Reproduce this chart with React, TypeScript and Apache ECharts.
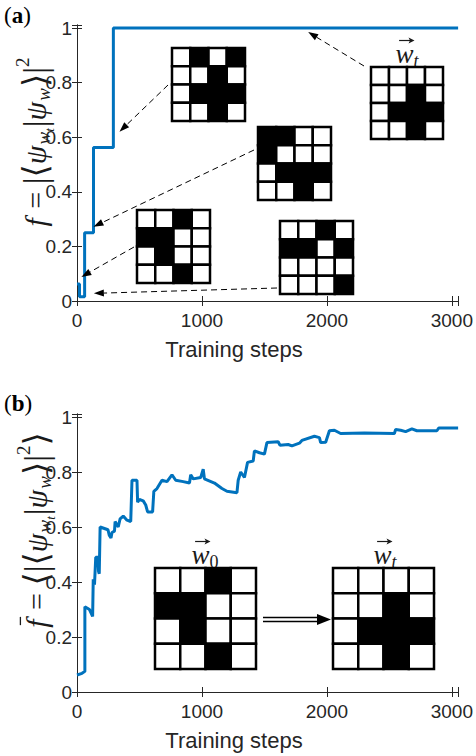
import React, { useEffect, useRef } from 'react';
import * as echarts from 'echarts';

// Panel (a): fidelity of the single training run
const stepsA = [0, 20, 20, 61, 61, 132, 132, 291, 291, 3050];
const fidA = [0.0625, 0.0625, 0.0156, 0.0156, 0.25, 0.25, 0.5625, 0.5625, 1, 1];

// Panel (b): averaged fidelity
const stepsB = [0, 40, 63, 63, 100, 125, 130, 130, 140, 150, 168, 172, 178, 185, 248, 258, 272, 280, 300, 305, 330, 345, 370, 400, 430, 440, 480, 485, 500, 530, 550, 565, 605, 615, 640, 680, 720, 760, 790, 850, 900, 910, 930, 990, 1010, 1020, 1100, 1160, 1200, 1280, 1290, 1310, 1340, 1365, 1410, 1420, 1460, 1500, 1520, 1610, 1625, 1690, 1720, 1780, 1800, 1900, 1940, 1950, 1990, 2020, 2060, 2110, 2300, 2540, 2550, 2590, 2630, 2680, 2720, 2880, 2895, 3050];
const fidB = [0.062, 0.068, 0.075, 0.31, 0.3, 0.275, 0.275, 0.41, 0.39, 0.49, 0.49, 0.44, 0.43, 0.6, 0.59, 0.57, 0.56, 0.58, 0.585, 0.62, 0.6, 0.63, 0.64, 0.625, 0.62, 0.77, 0.77, 0.69, 0.7, 0.695, 0.68, 0.655, 0.655, 0.73, 0.74, 0.77, 0.765, 0.79, 0.77, 0.765, 0.76, 0.79, 0.775, 0.78, 0.81, 0.775, 0.76, 0.74, 0.73, 0.725, 0.77, 0.8, 0.78, 0.835, 0.84, 0.877, 0.87, 0.865, 0.907, 0.91, 0.897, 0.9, 0.895, 0.905, 0.915, 0.93, 0.925, 0.907, 0.908, 0.95, 0.952, 0.94, 0.942, 0.94, 0.955, 0.952, 0.947, 0.957, 0.95, 0.95, 0.96, 0.96];

// 4x4 weight patterns (1 = black)
const patA1 = ['0101', '0010', '0111', '0010'];
const patA2 = ['1100', '1000', '0111', '0010'];
const patA3 = ['0010', '1100', '0100', '0010'];
const patA4 = ['0010', '1101', '0000', '0001'];
const patTarget = ['0000', '0010', '0111', '0010'];
const patW0 = ['0010', '1100', '0100', '0010'];

const xName = 'Training steps';
const xMax = 3050;
const yMax = 1.011;
const axisColor = '#262626';
const tickFont = 'Liberation Sans, Arial, Helvetica, sans-serif';
const mathFont = '"Liberation Serif", "DejaVu Serif", serif';
const mathColor = '#1a1a1a';

function isMult(v: number, step: number) {
  return Math.abs(v / step - Math.round(v / step)) < 1e-6;
}

function makeAxes(gi: number) {
  const xs = [
    {
      gridIndex: gi, type: 'value', position: 'bottom', min: 0, max: xMax, interval: 1000,
      axisLine: { show: true, lineStyle: { color: axisColor, width: 1 } },
      axisTick: { show: true, inside: true, length: 5, lineStyle: { color: axisColor } },
      axisLabel: { show: true, margin: 10, fontSize: 19, color: axisColor, fontFamily: tickFont,
        formatter: (v: number) => (isMult(v, 1000) ? String(v) : '') },
      splitLine: { show: false },
    },
    {
      gridIndex: gi, type: 'value', position: 'top', min: 0, max: xMax, interval: 1000,
      axisLine: { show: true, lineStyle: { color: axisColor, width: 1 } },
      axisTick: { show: true, inside: true, length: 5, lineStyle: { color: axisColor } },
      axisLabel: { show: false }, splitLine: { show: false },
    },
  ];
  const ys = [
    {
      gridIndex: gi, type: 'value', position: 'left', min: 0, max: yMax, interval: 0.2,
      axisLine: { show: true, lineStyle: { color: axisColor, width: 1 } },
      axisTick: { show: true, inside: true, length: 5, lineStyle: { color: axisColor } },
      axisLabel: { show: true, margin: 5, fontSize: 19, color: axisColor, fontFamily: tickFont,
        formatter: (v: number) => (isMult(v, 0.2) ? String(Math.round(v * 10) / 10) : '') },
      splitLine: { show: false },
    },
    {
      gridIndex: gi, type: 'value', position: 'right', min: 0, max: yMax, interval: 0.2,
      axisLine: { show: true, lineStyle: { color: axisColor, width: 1 } },
      axisTick: { show: true, inside: true, length: 5, lineStyle: { color: axisColor } },
      axisLabel: { show: false }, splitLine: { show: false },
    },
  ];
  return { xs, ys };
}

function gridCells(x: number, y: number, size: number, pat: string[], lw: number) {
  const cs = size / 4;
  const out: any[] = [];
  pat.forEach((row, r) => {
    row.split('').forEach((c, k) => {
      out.push({
        type: 'rect',
        shape: { x: x + k * cs, y: y + r * cs, width: cs, height: cs },
        style: { fill: c === '1' ? '#000' : '#fff', stroke: '#000', lineWidth: lw },
        z: 100,
      });
    });
  });
  return out;
}

function dashedArrow(x1: number, y1: number, x2: number, y2: number) {
  const dx = x2 - x1, dy = y2 - y1;
  const L = Math.sqrt(dx * dx + dy * dy);
  const ux = dx / L, uy = dy / L;
  const hl = 10, hw = 3.5;
  const bx = x2 - ux * hl, by = y2 - uy * hl;
  return [
    {
      type: 'line', shape: { x1, y1, x2: bx, y2: by },
      style: { stroke: '#000', lineWidth: 1, lineDash: [6, 4] }, z: 100,
    },
    {
      type: 'polygon',
      shape: { points: [[x2, y2], [bx - uy * hw, by + ux * hw], [bx + uy * hw, by - ux * hw]] },
      style: { fill: '#000' }, z: 100,
    },
  ];
}

type Piece = { t: string; size: number; it?: boolean; dy?: number; bar?: boolean; vec?: boolean; pad?: number };

let measureCtx: CanvasRenderingContext2D | null = null;
function measure(t: string, size: number, it?: boolean) {
  if (!measureCtx) measureCtx = document.createElement('canvas').getContext('2d');
  measureCtx!.font = (it ? 'italic ' : '') + size + 'px ' + mathFont;
  return measureCtx!.measureText(t).width;
}

function mathGroup(cx: number, cy: number, pieces: Piece[], rotation: number) {
  const widths = pieces.map((p) => measure(p.t, p.size, p.it) + (p.pad || 0));
  const total = widths.reduce((s, w) => s + w, 0);
  let x = -total / 2;
  const children: any[] = [];
  pieces.forEach((p, i) => {
    const w = widths[i];
    const dy = p.dy || 0;
    children.push({
      type: 'text', x, y: dy,
      style: {
        text: p.t, fontSize: p.size, fontFamily: mathFont, fontStyle: p.it ? 'italic' : 'normal',
        fill: mathColor, align: 'left', verticalAlign: 'middle',
      },
    });
    if (p.bar) {
      const by = dy - p.size * 0.52;
      children.push({ type: 'line', shape: { x1: x + w * 0.25, y1: by, x2: x + w * 1.05, y2: by }, style: { stroke: mathColor, lineWidth: 1.3 } });
    }
    if (p.vec) {
      const vy = dy - p.size * 0.5;
      const x1 = x + w * 0.2, x2 = x + w * 1.0;
      children.push({ type: 'line', shape: { x1, y1: vy, x2: x2 - 2, y2: vy }, style: { stroke: mathColor, lineWidth: 1.2 } });
      children.push({ type: 'polygon', shape: { points: [[x2 + 1, vy], [x2 - 5, vy - 3], [x2 - 3.5, vy], [x2 - 5, vy + 3]] }, style: { fill: mathColor } });
    }
    x += w;
  });
  return { type: 'group', x: cx, y: cy, rotation, children, z: 100 };
}

const M = 30, D = 34, S = 19, SS = 13;
const labelA: Piece[] = [
  { t: 'f', size: M, it: true, pad: 2 },
  { t: ' = ', size: M },
  { t: '|\u27E8', size: D },
  { t: '\u03C8', size: M, it: true, pad: 1 },
  { t: 'w', size: S, it: true, dy: 8 },
  { t: 't', size: SS, it: true, dy: 14, pad: 1 },
  { t: '|', size: D },
  { t: '\u03C8', size: M, it: true, pad: 1 },
  { t: 'w', size: S, it: true, dy: 8, pad: 1 },
  { t: '\u27E9|', size: D },
  { t: '2', size: S, dy: -13 },
];
const labelB: Piece[] = [
  { t: 'f', size: M, it: true, bar: true, pad: 2 },
  { t: ' = ', size: M },
  { t: '\u27E8|\u27E8', size: D },
  { t: '\u03C8', size: M, it: true, pad: 1 },
  { t: 'w', size: S, it: true, dy: 8 },
  { t: 't', size: SS, it: true, dy: 14, pad: 1 },
  { t: '|', size: D },
  { t: '\u03C8', size: M, it: true, pad: 1 },
  { t: 'w', size: S, it: true, dy: 8, pad: 1 },
  { t: '\u27E9|', size: D },
  { t: '2', size: S, dy: -13 },
  { t: '\u27E9', size: D },
];
const wt: Piece[] = [{ t: 'w', size: 27, it: true, vec: true }, { t: 't', size: 18, it: true, dy: 7 }];
const w0: Piece[] = [{ t: 'w', size: 27, it: true, vec: true }, { t: '0', size: 18, dy: 7 }];

export default function App() {
  const ref = useRef<HTMLDivElement>(null);
  useEffect(() => {
    const chart = echarts.init(ref.current!, null, { renderer: 'svg' });
    const a = makeAxes(0);
    const b = makeAxes(1);
    chart.setOption({
      animation: false,
      backgroundColor: '#fff',
      grid: [
        { left: 77, right: 15, top: 25, height: 276 },
        { left: 77, right: 15, top: 414, height: 278 },
      ],
      xAxis: [...a.xs, ...b.xs.map((x) => ({ ...x, gridIndex: 1 }))],
      yAxis: [...a.ys, ...b.ys.map((y) => ({ ...y, gridIndex: 1 }))],
      series: [
        {
          type: 'line', xAxisIndex: 0, yAxisIndex: 0, showSymbol: false, symbol: 'none',
          data: stepsA.map((s, i) => [s, fidA[i]]),
          lineStyle: { color: '#0072BD', width: 3 }, clip: true,
        },
        {
          type: 'line', xAxisIndex: 2, yAxisIndex: 2, showSymbol: false, symbol: 'none',
          data: stepsB.map((s, i) => [s, fidB[i]]),
          lineStyle: { color: '#0072BD', width: 3 }, clip: true,
        },
      ],
    });

    const px = (pt: number[]) => chart.convertToPixel({ gridIndex: 0 }, pt) as number[];
    const t1 = px([340, 0.62]);
    const t2 = px([132, 0.272]);
    const t3 = px([35, 0.088]);
    const t4 = px([135, 0.028]);
    const t5 = px([1850, 0.985]);

    const panelRich = {
      n: { fontFamily: mathFont, fontSize: 23, fill: '#000' },
      b: { fontFamily: mathFont, fontSize: 23, fontWeight: 'bold', fill: '#000' },
    };
    const nameStyle = {
      text: xName, fontSize: 22, fontFamily: tickFont, fill: axisColor,
      align: 'center', verticalAlign: 'middle',
    };

    const graphic: any[] = [
      { type: 'text', x: 4, y: 4, style: { text: '{n|(}{b|a}{n|)}', rich: panelRich } },
      { type: 'text', x: 4, y: 392, style: { text: '{n|(}{b|b}{n|)}', rich: panelRich } },
      { type: 'text', x: 234, y: 349, style: nameStyle },
      { type: 'text', x: 234, y: 740, style: nameStyle },
      mathGroup(35, 142, labelA, Math.PI / 2),
      mathGroup(36, 530, labelB, Math.PI / 2),
      // panel (a) insets
      ...gridCells(172, 48, 73, patA1, 2.5),
      ...gridCells(258, 127, 73, patA2, 2.5),
      ...gridCells(137, 210, 73, patA3, 2.5),
      ...gridCells(280, 221, 73, patA4, 2.5),
      ...gridCells(371, 67, 72, patTarget, 2.5),
      mathGroup(407, 54, wt, 0),
      ...dashedArrow(168, 85, t1[0], t1[1]),
      ...dashedArrow(254, 150, t2[0], t2[1]),
      ...dashedArrow(134, 247, t3[0], t3[1]),
      ...dashedArrow(277, 288, t4[0], t4[1]),
      ...dashedArrow(364, 66, t5[0], t5[1]),
      // panel (b) insets
      ...gridCells(155, 568, 101, patW0, 2.5),
      ...gridCells(333, 568, 101, patTarget, 2.5),
      mathGroup(205, 555, w0, 0),
      mathGroup(385, 555, wt, 0),
      { type: 'line', shape: { x1: 263, y1: 617.5, x2: 320, y2: 617.5 }, style: { stroke: '#000', lineWidth: 1.5 }, z: 100 },
      { type: 'line', shape: { x1: 263, y1: 621.5, x2: 320, y2: 621.5 }, style: { stroke: '#000', lineWidth: 1.5 }, z: 100 },
      { type: 'polygon', shape: { points: [[317, 614], [331, 619.5], [317, 625]] }, style: { fill: '#000' }, z: 100 },
    ];
    chart.setOption({ graphic });
    return () => chart.dispose();
  }, []);
  return <div ref={ref} style={{ position: 'absolute', left: 0, top: 0, width: 476, height: 756 }} />;
}
